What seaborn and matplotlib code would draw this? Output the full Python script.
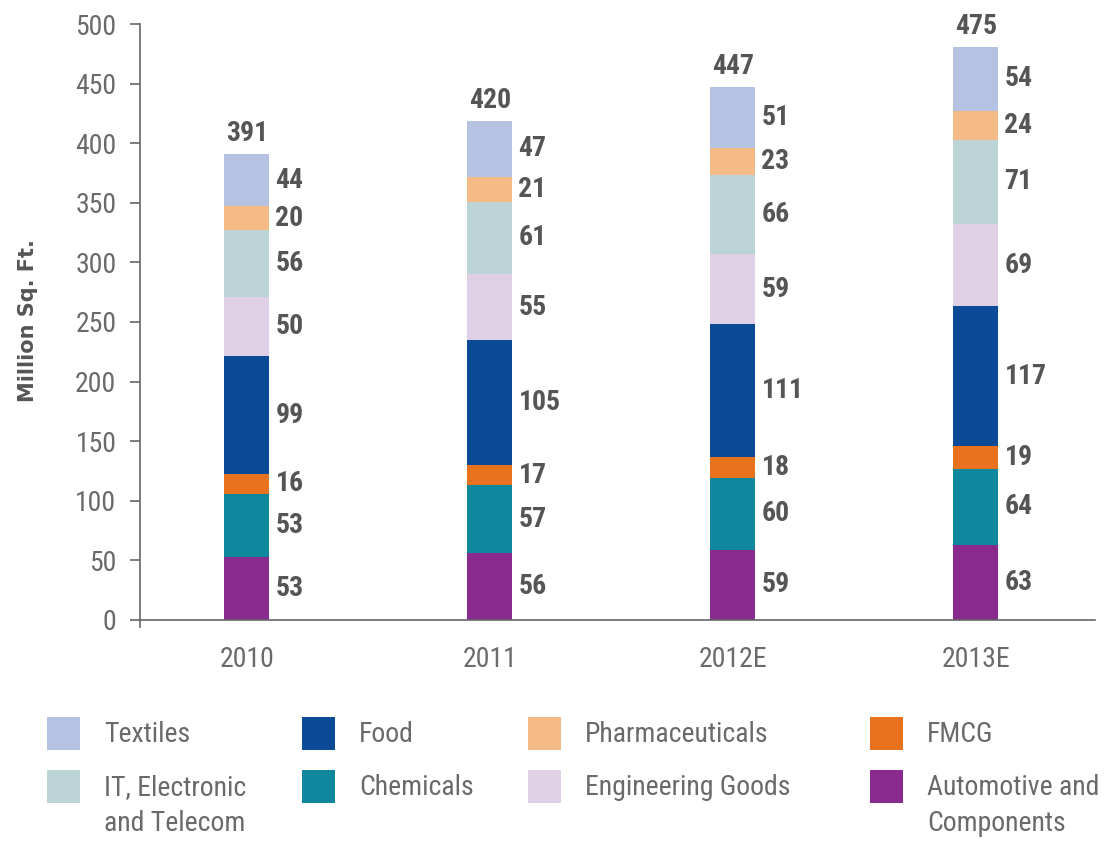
import matplotlib
matplotlib.use("Agg")
import matplotlib.pyplot as plt
from matplotlib import font_manager as fm
from matplotlib.patches import Rectangle
import seaborn as sns
import pandas as pd
import numpy as np

years = ["2010", "2011", "2012E", "2013E"]

# stacking order bottom -> top
automotive = [53, 56, 59, 63]
chemicals = [53, 57, 60, 64]
fmcg = [16, 17, 18, 19]
food = [99, 105, 111, 117]
engineering = [50, 55, 59, 69]
it_telecom = [56, 61, 66, 71]
pharma = [20, 21, 23, 24]
textiles = [44, 47, 51, 54]
totals = [391, 420, 447, 475]

series_names = ["Automotive and\nComponents", "Chemicals", "FMCG", "Food",
                "Engineering Goods", "IT, Electronic\nand Telecom",
                "Pharmaceuticals", "Textiles"]
series_values = [automotive, chemicals, fmcg, food, engineering, it_telecom,
                 pharma, textiles]
series_colors = ["#8a2a8f", "#0f879c", "#e9721f", "#0b4a97", "#dfd0e6",
                 "#bcd4d6", "#f4bb86", "#b6c2e2"]

legend_order = ["Textiles", "IT, Electronic\nand Telecom", "Food", "Chemicals",
                "Pharmaceuticals", "Engineering Goods", "FMCG",
                "Automotive and\nComponents"]

sns.set_theme(style="white")
available = {f.name for f in fm.fontManager.ttflist}
narrow = "DejaVu Sans"
for cand in ["Roboto Condensed", "Liberation Sans Narrow", "Archivo Narrow",
             "PT Sans Narrow", "Fira Sans Condensed", "Open Sans Condensed",
             "Encode Sans Condensed", "IBM Plex Sans Condensed"]:
    if cand in available:
        narrow = cand
        break
plt.rcParams["font.family"] = [narrow, "DejaVu Sans"]

W, H = 1104, 841
fig = plt.figure(figsize=(W / 100, H / 100), dpi=100)
ax_left, ax_right, ax_top, ax_bottom = 140, 1095, 24, 627
ax = fig.add_axes([ax_left / W, (H - ax_bottom) / H,
                   (ax_right - ax_left) / W, (ax_bottom - ax_top) / H])

bar_w = 0.185
bottoms = np.zeros(len(years))
for name, vals, col in zip(series_names, series_values, series_colors):
    df = pd.DataFrame({"year": years, "value": vals})
    sns.barplot(data=df, x="year", y="value", color=col, width=bar_w,
                bottom=bottoms.copy(), errorbar=None, linewidth=0,
                saturation=1, ax=ax)
    for i, v in enumerate(vals):
        ax.text(i + bar_w / 2 + 0.025, bottoms[i] + v / 2, str(v),
                ha="left", va="center", fontsize=20, fontweight="bold",
                color="#555555")
    bottoms = bottoms + np.array(vals)

for i, t in enumerate(totals):
    ax.annotate(str(t), (i, bottoms[i]), xytext=(0, 5),
                textcoords="offset points", ha="center", va="bottom",
                fontsize=20, fontweight="bold", color="#555555")

ax.set_xlim(-0.44, 3.49)
ax.set_ylim(-6, 500)
ax.set_yticks(range(0, 501, 50))
ax.spines["bottom"].set_position(("data", 0))
for s in ["top", "right"]:
    ax.spines[s].set_visible(False)
for s in ["left", "bottom"]:
    ax.spines[s].set_color("#666666")
    ax.spines[s].set_linewidth(1.2)
ax.tick_params(axis="y", direction="out", length=7, width=1.2,
               color="#666666", labelsize=20, labelcolor="#6a6a6a", pad=10,
               left=True)
ax.tick_params(axis="x", length=0, labelsize=20, labelcolor="#6a6a6a", pad=19)
ax.set_xlabel("")
ax.set_ylabel("Million Sq. Ft.", fontsize=15, fontweight="bold",
              color="#555555", family=["DejaVu Sans"])
ax.yaxis.set_label_coords(-0.1068, 0.5075)

# legend (4 columns x 2 rows)
color_map = dict(zip(series_names, series_colors))
col_patch_x = [47, 302, 528, 870]
row_center_y = [733, 786]
patch_size = 33
for k, name in enumerate(legend_order):
    c, r = divmod(k, 2)
    px = col_patch_x[c]
    cy = row_center_y[r]
    fig.add_artist(Rectangle((px / W, (H - cy - patch_size / 2) / H),
                             patch_size / W, patch_size / H,
                             transform=fig.transFigure,
                             facecolor=color_map[name], edgecolor="none"))
    fig.text((px + patch_size + 24) / W, (H - cy + 12) / H, name,
             ha="left", va="top", fontsize=20, color="#6a6a6a",
             linespacing=1.42)

fig.savefig("out.png", dpi=100)
